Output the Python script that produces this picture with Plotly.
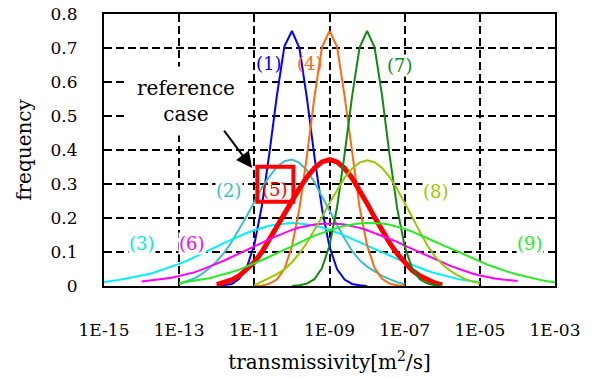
import plotly.graph_objects as go

# log10 of transmissivity bin centres [m2/s]
BINS = [-15.0, -14.8, -14.6, -14.4, -14.2, -14.0, -13.8, -13.6, -13.4, -13.2,
        -13.0, -12.8, -12.6, -12.4, -12.2, -12.0, -11.8, -11.6, -11.4, -11.2,
        -11.0, -10.8, -10.6, -10.4, -10.2, -10.0, -9.8, -9.6, -9.4, -9.2,
        -9.0, -8.8, -8.6, -8.4, -8.2, -8.0, -7.8, -7.6, -7.4, -7.2,
        -7.0, -6.8, -6.6, -6.4, -6.2, -6.0, -5.8, -5.6, -5.4, -5.2,
        -5.0, -4.8, -4.6, -4.4, -4.2, -4.0, -3.8, -3.6, -3.4, -3.2, -3.0]

TICK_EXP = [-15, -13, -11, -9, -7, -5, -3]
TICK_TEXT = ["1E-15", "1E-13", "1E-11", "1E-09", "1E-07", "1E-05", "1E-03"]

# case (1) .. (9): first bin and frequencies
START_1 = -12.0
FREQ_1 = [0.000, 0.002, 0.006, 0.021, 0.055, 0.122, 0.235, 0.390, 0.560, 0.705, 0.750,
          0.700, 0.552, 0.380, 0.228, 0.115, 0.050, 0.019, 0.006, 0.002, 0.000]
START_2 = -13.0
FREQ_2 = [0.006, 0.013, 0.022, 0.035, 0.052, 0.073, 0.098, 0.130, 0.166, 0.206,
          0.248, 0.288, 0.322, 0.350, 0.367, 0.372, 0.362, 0.340, 0.305, 0.262,
          0.220, 0.180, 0.140, 0.103, 0.076, 0.057, 0.043, 0.030, 0.020, 0.011, 0.005]
START_3 = -15.0
FREQ_3 = [0.012, 0.014, 0.018, 0.022, 0.026, 0.030, 0.035, 0.042, 0.049, 0.057,
          0.065, 0.074, 0.084, 0.095, 0.106, 0.116, 0.127, 0.137, 0.147, 0.156,
          0.164, 0.171, 0.177, 0.181, 0.184, 0.185, 0.184, 0.182, 0.178, 0.172,
          0.165, 0.157, 0.148, 0.138, 0.128, 0.118, 0.108, 0.098, 0.089, 0.080,
          0.071, 0.062, 0.053, 0.045, 0.038, 0.032, 0.026, 0.021, 0.017, 0.014, 0.012]
START_4 = -11.0
FREQ_4 = [0.000, 0.001, 0.007, 0.019, 0.050, 0.116, 0.228, 0.383, 0.556, 0.703, 0.750,
          0.704, 0.560, 0.388, 0.232, 0.120, 0.053, 0.021, 0.007, 0.002, 0.000]
START_5 = -12.0
FREQ_5 = [0.004, 0.010, 0.018, 0.030, 0.048, 0.070, 0.100, 0.138, 0.175, 0.212,
          0.250, 0.287, 0.320, 0.347, 0.365, 0.372, 0.365, 0.346, 0.318, 0.283,
          0.243, 0.202, 0.163, 0.127, 0.095, 0.068, 0.046, 0.030, 0.018, 0.009, 0.003]
START_6 = -14.0
FREQ_6 = [0.013, 0.015, 0.017, 0.021, 0.024, 0.029, 0.034, 0.040, 0.048, 0.056,
          0.066, 0.075, 0.085, 0.096, 0.106, 0.117, 0.127, 0.138, 0.147, 0.157,
          0.165, 0.172, 0.177, 0.181, 0.183, 0.184, 0.183, 0.181, 0.177, 0.171,
          0.164, 0.156, 0.148, 0.140, 0.130, 0.119, 0.109, 0.099, 0.089, 0.079,
          0.070, 0.060, 0.052, 0.044, 0.037, 0.031, 0.026, 0.022, 0.019, 0.016, 0.015]
START_7 = -10.0
FREQ_7 = [0.000, 0.002, 0.007, 0.020, 0.053, 0.119, 0.231, 0.386, 0.557, 0.701, 0.750,
          0.702, 0.559, 0.384, 0.229, 0.117, 0.051, 0.020, 0.008, 0.002, 0.000]
START_8 = -11.0
FREQ_8 = [0.002, 0.012, 0.024, 0.035, 0.049, 0.070, 0.096, 0.127, 0.163, 0.203,
          0.244, 0.283, 0.318, 0.345, 0.363, 0.370, 0.364, 0.347, 0.320, 0.285,
          0.246, 0.203, 0.160, 0.120, 0.088, 0.064, 0.046, 0.032, 0.021, 0.013, 0.008]
START_9 = -13.0
FREQ_9 = [0.009, 0.012, 0.015, 0.019, 0.023, 0.029, 0.034, 0.041, 0.048, 0.057,
          0.066, 0.075, 0.086, 0.096, 0.107, 0.118, 0.128, 0.138, 0.148, 0.156,
          0.164, 0.171, 0.177, 0.181, 0.184, 0.185, 0.185, 0.184, 0.180, 0.175,
          0.168, 0.160, 0.151, 0.141, 0.131, 0.121, 0.111, 0.101, 0.091, 0.081,
          0.072, 0.063, 0.055, 0.047, 0.040, 0.034, 0.028, 0.023, 0.018, 0.014, 0.011]

SERIES = [
    ("(1)", START_1, FREQ_1, "#0000FF", 2),
    ("(2)", START_2, FREQ_2, "#3CC0C4", 2),
    ("(3)", START_3, FREQ_3, "#00F0FF", 2),
    ("(4)", START_4, FREQ_4, "#FF6A10", 2),
    ("(5)", START_5, FREQ_5, "#FF0000", 5),
    ("(6)", START_6, FREQ_6, "#FF00FF", 2),
    ("(7)", START_7, FREQ_7, "#108A10", 2),
    ("(8)", START_8, FREQ_8, "#9AC800", 2),
    ("(9)", START_9, FREQ_9, "#22EE22", 2),
]

FONT = "DejaVu Serif"

fig = go.Figure()
for name, start, freq, color, width in SERIES:
    i0 = BINS.index(start)
    xs = [10 ** b for b in BINS[i0:i0 + len(freq)]]
    fig.add_trace(go.Scatter(x=xs, y=freq, mode="lines", name=name,
                             line=dict(color=color, width=width), showlegend=False))

# case labels (x in log10 units for annotations on a log axis)
LABELS = [
    ("(1)", -10.60, 0.655, "#0000FF", False),
    ("(4)", -9.53, 0.655, "#FF6A10", False),
    ("(7)", -7.12, 0.650, "#108A10", True),
    ("(2)", -11.68, 0.282, "#3CC0C4", True),
    ("(5)", -10.45, 0.285, "#FF0000", False),
    ("(8)", -6.17, 0.278, "#9AC800", True),
    ("(3)", -13.98, 0.126, "#00E8F0", True),
    ("(6)", -12.66, 0.126, "#FF00FF", True),
    ("(9)", -3.66, 0.126, "#22EE22", True),
]
for txt, lx, ly, col, bg in LABELS:
    fig.add_annotation(x=lx, y=ly, text=txt, showarrow=False,
                       font=dict(family=FONT, size=18, color=col),
                       bgcolor="white" if bg else None, borderpad=0)

fig.add_annotation(x=-12.82, y=0.545, text="reference<br>case", showarrow=False,
                   font=dict(family=FONT, size=20, color="black"),
                   bgcolor="white", borderpad=9)
fig.add_annotation(x=-11.06, y=0.347, ax=-30, ay=-40, text=" ", showarrow=True,
                   arrowhead=2, arrowsize=1.6, arrowwidth=2, arrowcolor="black",
                   font=dict(size=4))

fig.add_shape(type="rect", xref="x", yref="y",
              x0=10 ** -10.92, x1=10 ** -9.96, y0=0.248, y1=0.351,
              line=dict(color="#FF0000", width=4))

fig.update_xaxes(type="log", range=[-15, -3], tickvals=[10 ** e for e in TICK_EXP],
                 ticktext=TICK_TEXT, showgrid=True, gridcolor="black", gridwidth=1.8,
                 griddash="8px,4px", showline=True, mirror=True, linecolor="black",
                 linewidth=2, ticks="outside", ticklen=28, tickcolor="rgba(0,0,0,0)",
                 tickfont=dict(family=FONT, size=17, color="black"),
                 title=dict(text="transmissivity[m<sup>2</sup>/s]", standoff=16,
                            font=dict(family=FONT, size=20, color="black")),
                 zeroline=False, automargin=False)
fig.update_yaxes(range=[0, 0.8], tick0=0, dtick=0.1, showgrid=True, gridcolor="black",
                 gridwidth=1.8, griddash="8px,4px", showline=True, mirror=True,
                 linecolor="black", linewidth=2, ticks="outside", ticklen=21,
                 tickcolor="rgba(0,0,0,0)",
                 tickfont=dict(family=FONT, size=17, color="black"),
                 title=dict(text="frequency", standoff=14,
                            font=dict(family=FONT, size=20, color="black")),
                 zeroline=False, automargin=False)
fig.update_xaxes(layer="below traces")
fig.update_yaxes(layer="below traces")

fig.update_layout(width=594, height=379, margin=dict(l=104, r=39, t=14, b=93),
                  plot_bgcolor="white", paper_bgcolor="white", showlegend=False,
                  font=dict(family=FONT))

fig.write_html("out.html")
